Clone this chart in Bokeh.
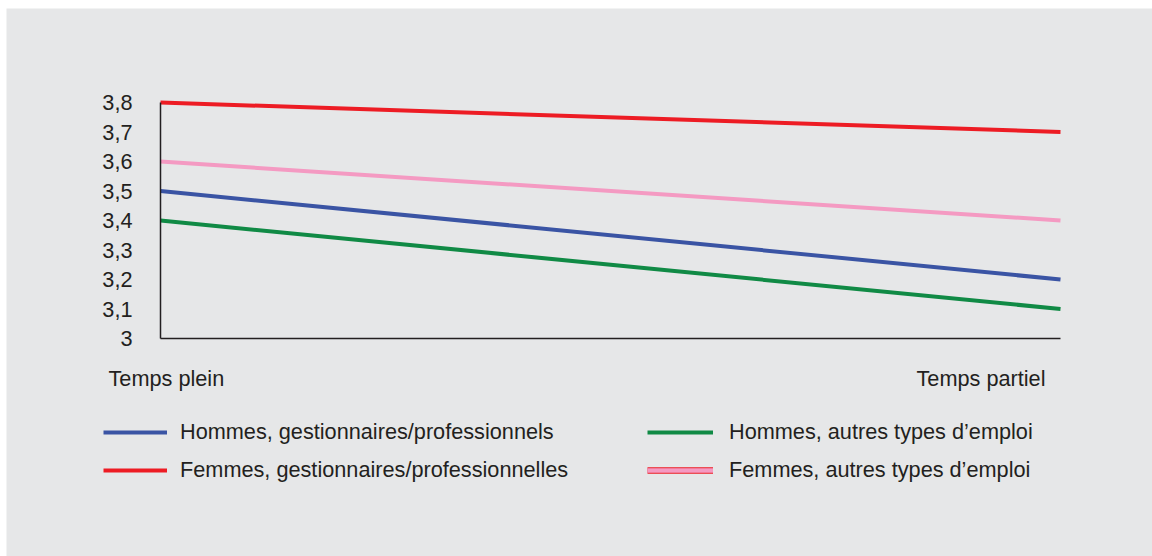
from bokeh.plotting import figure
from bokeh.models import Range1d, FixedTicker, Legend, LegendItem
from bokeh.core.properties import value
from bokeh.embed import file_html
from bokeh.resources import INLINE

# ---- data ----
categories = ["Temps plein", "Temps partiel"]
hommes_gest = [3.5, 3.2]
femmes_gest = [3.8, 3.7]
hommes_autres = [3.4, 3.1]
femmes_autres = [3.6, 3.4]
series_names = [
    "Hommes, gestionnaires/professionnels",
    "Femmes, gestionnaires/professionnelles",
    "Hommes, autres types d\u2019emploi",
    "Femmes, autres types d\u2019emploi",
]
y_ticks = [3.0, 3.1, 3.2, 3.3, 3.4, 3.5, 3.6, 3.7, 3.8]
y_tick_labels = ["3", "3,1", "3,2", "3,3", "3,4", "3,5", "3,6", "3,7", "3,8"]

# ---- styles ----
BG = "#e6e7e8"
TXT = "#231f20"
BLUE = "#3a54a4"
RED = "#ed1c24"
GREEN = "#108a45"
PINK = "#f49ac2"
FONT = "Liberation Sans"
FS = "21.7px"
NAN = float("nan")

x = list(range(len(categories)))

p = figure(
    width=1152, height=556,
    x_range=Range1d(-154 / 900, 1 + 92 / 900),
    y_range=Range1d(3.0 - 218 / 295, 3.8 + 94 / 295),
    output_backend="svg", toolbar_location=None,
    min_border_left=6, min_border_top=8, min_border_right=0, min_border_bottom=0,
)
p.border_fill_color = "white"
p.background_fill_color = BG
p.outline_line_color = None
p.grid.visible = False

# y axis
ya = p.yaxis[0]
ya.fixed_location = 0
ya.bounds = (y_ticks[0], y_ticks[-1])
ya.ticker = FixedTicker(ticks=y_ticks)
ya.major_label_overrides = dict(zip(y_ticks, y_tick_labels))
ya.major_tick_in = 0
ya.major_tick_out = 0
ya.minor_tick_in = 0
ya.minor_tick_out = 0
ya.major_label_standoff = 28
ya.major_label_text_font = FONT
ya.major_label_text_font_size = FS
ya.major_label_text_color = TXT
ya.axis_line_color = TXT
ya.axis_line_width = 1.5

# x axis
xa = p.xaxis[0]
xa.fixed_location = y_ticks[0]
xa.bounds = (x[0], x[-1])
xa.ticker = FixedTicker(ticks=[])
xa.major_tick_in = 0
xa.major_tick_out = 0
xa.minor_tick_in = 0
xa.minor_tick_out = 0
xa.axis_line_color = TXT
xa.axis_line_width = 1.5

# lines
r_hg = p.line(x, hommes_gest, line_color=BLUE, line_width=4)
r_fg = p.line(x, femmes_gest, line_color=RED, line_width=4)
r_ha = p.line(x, hommes_autres, line_color=GREEN, line_width=4)
r_fa = p.line(x, femmes_autres, line_color=PINK, line_width=4)
# legend-only glyphs (no drawable points) for the outlined pink sample
leg_outline = p.line(x, [NAN] * len(x), line_color=RED, line_width=6.5)
leg_fill = p.line(x, [NAN] * len(x), line_color=PINK, line_width=4.5)

# category labels
p.text(
    x=x, y=[y_ticks[0]] * len(x), text=categories,
    text_align=["left", "right"], text_baseline="middle",
    x_offset=[-52, -15], y_offset=[40, 40],
    text_font=value(FONT), text_font_size=FS, text_color=TXT,
)

def make_legend(items, loc, gw, st):
    lg = Legend(
        items=items, location=loc, orientation="vertical",
        padding=0, margin=0, spacing=12,
        glyph_width=gw, glyph_height=26, label_height=26, label_standoff=st,
        border_line_color=None, background_fill_alpha=0,
        label_text_font=FONT, label_text_font_size=FS, label_text_color=TXT,
    )
    p.add_layout(lg, "center")

make_legend([
    LegendItem(label=series_names[0], renderers=[r_hg]),
    LegendItem(label=series_names[1], renderers=[r_fg]),
], (97, 73), 64, 13)
make_legend([
    LegendItem(label=series_names[2], renderers=[r_ha]),
    LegendItem(label=series_names[3], renderers=[leg_outline, leg_fill]),
], (641, 73), 66, 16)

open("out.html", "w").write(file_html(p, INLINE))
